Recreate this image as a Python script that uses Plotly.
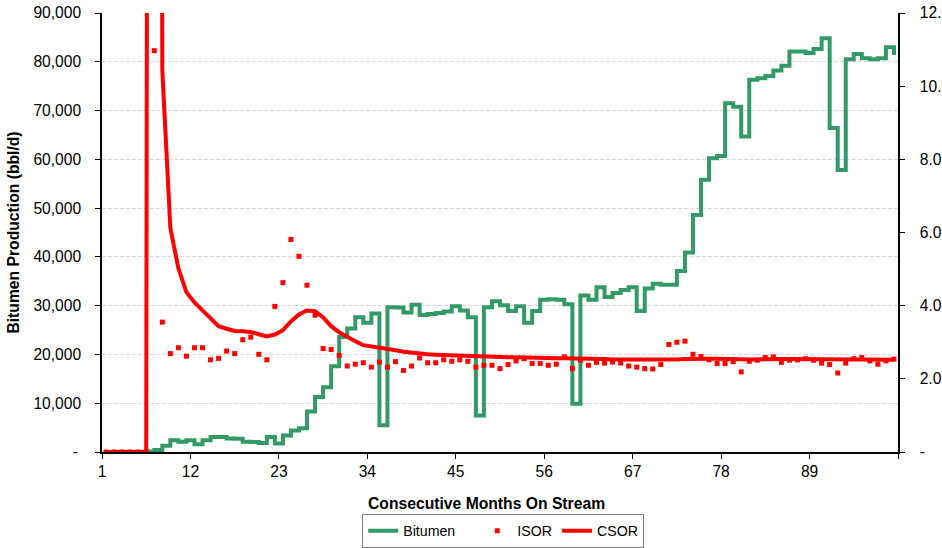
import plotly.graph_objects as go

# monthly data (month 1..99)
months = list(range(1, 100))

bitumen = [0, 0, 0, 0, 0, 100, 400, 1300, 2400, 2100,
           2400, 1600, 2400, 3100, 3100, 2750, 2700, 2100, 2050, 1850,
           3050, 1750, 3400, 4400, 4850, 8300, 11300, 13300, 17600, 23600,
           25300, 27600, 26500, 28400, 5500, 29700, 29600, 28600, 30200, 28100,
           28300, 28500, 28800, 29900, 29000, 27600, 7500, 29700, 30900, 30100,
           28900, 29900, 26500, 28900, 31200, 31300, 31200, 30300, 9900, 32100,
           31200, 33800, 31800, 32600, 33200, 33800, 28900, 33500, 34500, 34300,
           34300, 37100, 40900, 48600, 55800, 60200, 60700, 71500, 70800, 64700,
           76300, 76600, 77100, 78200, 79200, 82100, 82100, 81800, 82600, 84800,
           66400, 57800, 80500, 81600, 80700, 80500, 80700, 83000, 81400]

isor = [0, 0, 0, 0, 0, 0, 10.97, 3.55, 2.69, 2.85,
        2.62, 2.85, 2.85, 2.52, 2.56, 2.76, 2.69, 3.07, 3.14, 2.67,
        2.52, 3.98, 4.63, 5.81, 5.35, 4.56, 3.74, 2.83, 2.80, 2.64,
        2.35, 2.40, 2.44, 2.32, 2.46, 2.32, 2.47, 2.23, 2.35, 2.57,
        2.44, 2.44, 2.52, 2.48, 2.52, 2.48, 2.32, 2.37, 2.37, 2.28,
        2.39, 2.49, 2.55, 2.42, 2.42, 2.37, 2.40, 2.60, 2.28, 2.51,
        2.37, 2.45, 2.43, 2.46, 2.43, 2.35, 2.32, 2.28, 2.27, 2.39,
        2.94, 3.00, 3.03, 2.67, 2.61, 2.52, 2.42, 2.42, 2.47, 2.19,
        2.48, 2.51, 2.58, 2.60, 2.45, 2.51, 2.52, 2.55, 2.51, 2.43,
        2.39, 2.16, 2.43, 2.55, 2.58, 2.49, 2.40, 2.49, 2.54]

csor = [0, 0, 0, 0, 0, 0, 150, 10.44, 6.12, 5.02,
        4.37, 4.09, 3.87, 3.65, 3.44, 3.37, 3.31, 3.30, 3.28, 3.22,
        3.16, 3.21, 3.33, 3.57, 3.76, 3.87, 3.85, 3.68, 3.44, 3.27,
        3.14, 3.03, 2.92, 2.89, 2.85, 2.81, 2.78, 2.74, 2.71, 2.68,
        2.67, 2.66, 2.65, 2.64, 2.63, 2.63, 2.62, 2.61, 2.61, 2.60,
        2.59, 2.59, 2.58, 2.58, 2.57, 2.57, 2.56, 2.56, 2.56, 2.55,
        2.55, 2.54, 2.54, 2.53, 2.53, 2.52, 2.52, 2.51, 2.51, 2.51,
        2.52, 2.53, 2.54, 2.55, 2.55, 2.55, 2.55, 2.54, 2.54, 2.53,
        2.53, 2.53, 2.54, 2.54, 2.54, 2.54, 2.54, 2.54, 2.54, 2.54,
        2.53, 2.53, 2.52, 2.52, 2.52, 2.52, 2.52, 2.52, 2.52]

x_ticks = [1, 12, 23, 34, 45, 56, 67, 78, 89, 100]
x_labels = ["1", "12", "23", "34", "45", "56", "67", "78", "89", ""]
y_ticks = [0, 10000, 20000, 30000, 40000, 50000, 60000, 70000, 80000, 90000]
y_labels = ["-\u2009", "10,000", "20,000", "30,000", "40,000", "50,000",
            "60,000", "70,000", "80,000", "90,000"]
y2_ticks = [0, 2, 4, 6, 8, 10, 12]
y2_labels = ["-", "2.0", "4.0", "6.0", "8.0", "10.0", "12.0"]

# excel puts each month's point half way between the category ticks
xpos = [m + 0.5 for m in months]

FONT = "Arial, Liberation Sans, sans-serif"

fig = go.Figure()
fig.add_trace(go.Scatter(x=xpos, y=bitumen, name="Bitumen\u2002\u2002\u2009", mode="lines",
                         line=dict(color="#339966", width=4, shape="hv")))
fig.add_trace(go.Scatter(x=xpos, y=isor, name="ISOR", mode="markers", yaxis="y2",
                         marker=dict(color="#ff0000", symbol="square", size=5)))
fig.add_trace(go.Scatter(x=xpos, y=csor, name="CSOR", mode="lines", yaxis="y2",
                         line=dict(color="#ff0000", width=4)))

fig.update_layout(
    width=942, height=548,
    margin=dict(l=102, r=44, t=13, b=96, autoexpand=False),
    plot_bgcolor="white", paper_bgcolor="white",
    font=dict(family=FONT, size=15.6, color="black"),
    showlegend=True,
    legend=dict(orientation="h", x=0.504, xanchor="center", y=-0.141, yanchor="top",
                bordercolor="#7f7f7f", borderwidth=1, bgcolor="white",
                font=dict(size=14.2)),
    xaxis=dict(range=[1, 100], tickvals=x_ticks, ticktext=x_labels,
               ticks="outside", ticklen=5, tickcolor="black",
               showline=True, linecolor="black", linewidth=1.5,
               showgrid=False, zeroline=False, automargin=False),
    yaxis=dict(range=[0, 90000], tickvals=y_ticks, ticktext=y_labels,
               ticks="outside", ticklen=5, tickcolor="black",
               showline=True, linecolor="black", linewidth=1.5,
               showgrid=True, gridcolor="#d9d9d9", griddash="4px,2px", gridwidth=1,
               zeroline=False, automargin=False, ticklabelstandoff=11,
               ticklabeloverflow="allow",
               title=dict(text="<b>Bitumen Production (bbl/d)</b>",
                          font=dict(size=15.7), standoff=10)),
    yaxis2=dict(range=[0, 12], tickvals=y2_ticks, ticktext=y2_labels,
                overlaying="y", side="right",
                ticks="outside", ticklen=5, tickcolor="black",
                showline=True, linecolor="black", linewidth=1.5,
                showgrid=False, zeroline=False, automargin=False,
                ticklabelstandoff=12, ticklabeloverflow="allow"),
    annotations=[dict(text="<b>Consecutive Months On Stream</b>", xref="paper", yref="paper",
                      x=0.483, y=-0.117, xanchor="center", yanchor="middle",
                      showarrow=False, font=dict(size=15.7))],
)

# drop the browser's default 8px body margin so the figure fills the window
fig.write_html("out.html", config={"displayModeBar": False},
               post_script="document.body.style.margin = '0';")
